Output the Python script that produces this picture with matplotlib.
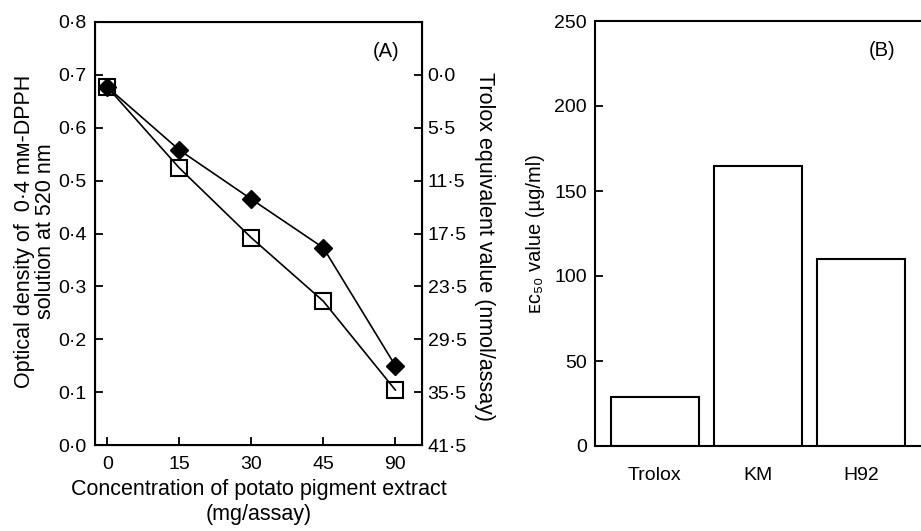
import matplotlib
matplotlib.use('Agg')
import matplotlib.pyplot as plt

plt.rcParams['font.family'] = ['Liberation Sans', 'DejaVu Sans']
plt.rcParams['font.size'] = 14

# panel A data
conc_labels = ['0', '15', '30', '45', '90']
od_filled = [0.677, 0.558, 0.465, 0.373, 0.150]
od_open = [0.677, 0.524, 0.392, 0.272, 0.104]
left_ticks = [0.0, 0.1, 0.2, 0.3, 0.4, 0.5, 0.6, 0.7, 0.8]
left_ticklabels = ['0·0', '0·1', '0·2', '0·3', '0·4', '0·5', '0·6', '0·7', '0·8']
trolox_ticks = [0.7, 0.6, 0.5, 0.4, 0.3, 0.2, 0.1, 0.0]
trolox_ticklabels = ['0·0', '5·5', '11·5', '17·5', '23·5', '29·5', '35·5', '41·5']

# panel B data
samples = ['Trolox', 'KM', 'H92']
ec50 = [29, 165, 110]
ec50_ticks = [0, 50, 100, 150, 200, 250]

W, H = 921, 531
fig = plt.figure(figsize=(W / 100, H / 100), dpi=100)

def frac(x0, y0, x1, y1):
    return [x0 / W, 1 - y1 / H, (x1 - x0) / W, (y1 - y0) / H]

tick_kw = dict(direction='in', length=6, width=1.3, color='black')
lab_fs = 15.5

# ---- panel A ----
ax = fig.add_axes(frac(95, 22, 422, 445))
xs = list(range(len(conc_labels)))
ax.plot(xs, od_filled, color='black', lw=1.2, marker='D', ms=9, mfc='black', mec='black', zorder=3)
ax.plot(xs, od_open, color='black', lw=1.2, marker='s', ms=11, mfc='none', mec='black', mew=1.5, zorder=4)
ax.set_xlim(-0.17, 4.37)
ax.set_ylim(0, 0.8)
ax.set_xticks(xs)
ax.set_xticklabels(conc_labels)
ax.set_yticks(left_ticks)
ax.set_yticklabels(left_ticklabels)
ax.tick_params(axis='both', pad=6, **tick_kw)
ax.tick_params(axis='x', pad=8)
for s in ax.spines.values():
    s.set_linewidth(1.5)
ax.set_xlabel('Concentration of potato pigment extract\n(mg/assay)', fontsize=lab_fs, labelpad=4, linespacing=1.25)
ax.set_ylabel('Optical density of  0·4 mᴍ-DPPH\nsolution at 520 nm', fontsize=lab_fs, linespacing=1.0)
ax.yaxis.set_label_coords(-0.118, 0.505)
ax.text(0.93, 0.93, '(A)', transform=ax.transAxes, ha='right', va='center', fontsize=14.5)

ax2 = ax.twinx()
ax2.set_ylim(0, 0.8)
ax2.set_yticks(trolox_ticks)
ax2.set_yticklabels(trolox_ticklabels)
ax2.tick_params(axis='y', pad=4, **tick_kw)
ax2.set_ylabel('Trolox equivalent value (nmol/assay)', fontsize=lab_fs, rotation=270)
ax2.yaxis.set_label_coords(1.222, 0.47)

# ---- panel B ----
bx = fig.add_axes(frac(595, 21, 921, 446))
bx.bar(range(len(samples)), ec50, width=0.85, color='white', edgecolor='black', linewidth=1.5)
bx.set_xlim(-0.58, 2.58)
bx.set_ylim(0, 250)
bx.set_yticks(ec50_ticks)
bx.set_xticks(range(len(samples)))
bx.set_xticklabels(samples)
bx.tick_params(axis='y', pad=6, **tick_kw)
bx.tick_params(axis='x', length=0, pad=15)
bx.spines['right'].set_visible(False)
for s in bx.spines.values():
    s.set_linewidth(1.5)
bx.set_ylabel('ᴇᴄ₅₀ value (µg/ml)', fontsize=14.5)
bx.yaxis.set_label_coords(-0.153, 0.5)
bx.text(0.92, 0.93, '(B)', transform=bx.transAxes, ha='right', va='center', fontsize=14.5)

fig.savefig('out.png', dpi=100)
